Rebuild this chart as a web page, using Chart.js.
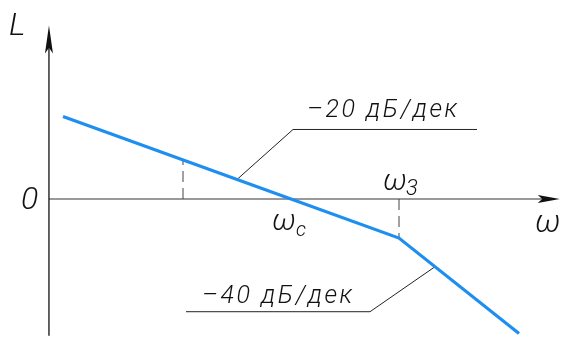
<!DOCTYPE html>
<html>
<head>
<meta charset="utf-8">
<script src="https://cdn.jsdelivr.net/npm/chart.js@4/dist/chart.umd.min.js"></script>
<style>
  html, body { margin: 0; padding: 0; background: #fff; }
  #lach { display: block; }
</style>
</head>
<body>
<canvas id="lach" width="561" height="338"></canvas>
<script>
// ЛАЧХ: асимптоты -20 и -40 дБ/дек
const lgOmega = [0, 1.9, 2.8, 3.8];      // lg ω, декады
const levels = [38, 0, -18, -62];        // L, дБ
const markOmega = [1.0, 2.8];            // пунктирные отметки
const omegaC = 1.9;
const omega3 = 2.8;
const slopeLabels = ['–20 дБ/дек', '–40 дБ/дек'];

const BLUE = '#1e8ff0';
const FAMILY = 'Roboto, "DejaVu Sans", sans-serif';

// значение L на асимптоте для данного lg ω
function levelAt(x) {
    for (let i = 0; i < lgOmega.length - 1; i++) {
        if (x <= lgOmega[i + 1]) {
            const t = (x - lgOmega[i]) / (lgOmega[i + 1] - lgOmega[i]);
            return levels[i] + t * (levels[i + 1] - levels[i]);
        }
    }
    return levels[levels.length - 1];
}

function arrow(ctx, x, y, dx, dy, len, half) {
    // наконечник стрелки, (dx,dy) - направление
    const px = -dy, py = dx;
    ctx.beginPath();
    ctx.moveTo(x, y);
    ctx.lineTo(x - dx * len + px * half, y - dy * len + py * half);
    ctx.lineTo(x - dx * len * 0.8, y - dy * len * 0.8);
    ctx.lineTo(x - dx * len - px * half, y - dy * len - py * half);
    ctx.closePath();
    ctx.fill();
}

function label(ctx, text, x, y, size, spacing) {
    ctx.font = 'italic 300 ' + size + 'px ' + FAMILY;
    ctx.letterSpacing = (spacing || 0) + 'px';
    ctx.fillText(text, x, y);
    ctx.letterSpacing = '0px';
}

const sketchPlugin = {
    id: 'sketch',
    beforeDatasetsDraw(chart) {
        const { ctx } = chart;
        const xs = chart.scales.x, ys = chart.scales.y;
        const X = v => xs.getPixelForValue(v);
        const Y = v => ys.getPixelForValue(v);
        const x0 = X(-0.117), y0 = Y(0);

        ctx.save();
        // ось ω
        ctx.strokeStyle = '#777';
        ctx.lineWidth = 1.5;
        ctx.beginPath();
        ctx.moveTo(x0, y0);
        ctx.lineTo(X(4.0), y0);
        ctx.stroke();
        ctx.fillStyle = '#111';
        arrow(ctx, X(4.14), y0, 1, 0, 22, 4);

        // ось L
        ctx.strokeStyle = '#111';
        ctx.lineWidth = 1.3;
        ctx.beginPath();
        ctx.moveTo(x0, Y(-63));
        ctx.lineTo(x0, Y(76));
        ctx.stroke();
        arrow(ctx, x0, Y(80), 0, -1, 28, 4);

        // пунктир до асимптоты
        ctx.strokeStyle = '#444';
        ctx.lineWidth = 1;
        ctx.setLineDash([11, 6]);
        markOmega.forEach(m => {
            ctx.beginPath();
            ctx.moveTo(X(m), y0);
            ctx.lineTo(X(m), Y(levelAt(m)));
            ctx.stroke();
        });
        ctx.setLineDash([]);

        // выноски к наклонам
        ctx.strokeStyle = '#222';
        ctx.lineWidth = 1;
        const a1x = X(1.45), a1y = Y(levelAt(1.45));
        ctx.beginPath();
        ctx.moveTo(a1x, a1y);
        ctx.lineTo(a1x + 56, a1y - 50);
        ctx.lineTo(a1x + 240, a1y - 50);
        ctx.stroke();
        const a2x = X(3.1), a2y = Y(levelAt(3.1));
        ctx.beginPath();
        ctx.moveTo(a2x, a2y);
        ctx.lineTo(a2x - 65, a2y + 45);
        ctx.lineTo(a2x - 249, a2y + 45);
        ctx.stroke();

        // подписи
        ctx.fillStyle = '#111';
        ctx.textBaseline = 'alphabetic';
        ctx.textAlign = 'left';
        label(ctx, slopeLabels[0], a1x + 70, a1y - 62, 25, 2.6);
        label(ctx, slopeLabels[1], a2x - 233, a2y + 36, 25, 2.6);

        label(ctx, 'L', 9, 35, 32);
        label(ctx, '0', 21, y0 + 10, 32);
        label(ctx, 'ω', X(4.0) - 8, y0 + 33, 32);
        label(ctx, 'ω', X(omegaC) - 19, y0 + 31, 30);
        label(ctx, 'ω', X(omega3) - 16, y0 - 9, 30);
        label(ctx, 'c', X(omegaC) + 5, y0 + 37, 20);
        label(ctx, '3', X(omega3) + 7, y0 - 4, 22);
        ctx.restore();
    }
};

new Chart(document.getElementById('lach'), {
    type: 'line',
    data: {
        datasets: [{
            data: lgOmega.map((x, i) => ({ x: x, y: levels[i] })),
            borderColor: BLUE,
            borderWidth: 3.2,
            pointRadius: 0,
            tension: 0,
            clip: false
        }]
    },
    options: {
        responsive: false,
        animation: false,
        layout: { padding: 0 },
        plugins: { legend: { display: false }, tooltip: { enabled: false } },
        scales: {
            x: { type: 'linear', min: -0.525, max: 4.15, display: false },
            y: { type: 'linear', min: -64.05, max: 91.7, display: false }
        }
    },
    plugins: [sketchPlugin]
});
</script>
</body>
</html>
